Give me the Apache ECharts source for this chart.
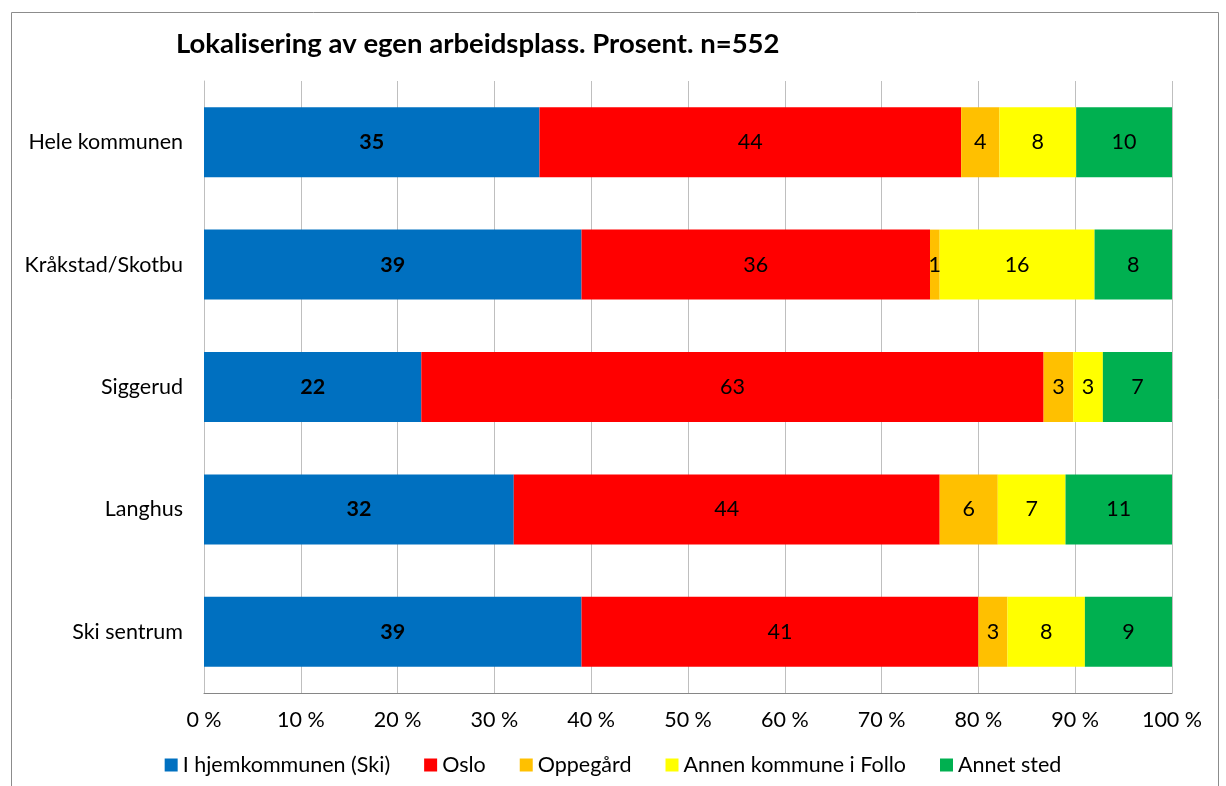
<!DOCTYPE html>
<html>
<head>
<meta charset="utf-8">
<script src="https://cdn.jsdelivr.net/npm/echarts@6/dist/echarts.min.js"></script>
<style>
html,body{margin:0;padding:0;background:#fff;}
#chart{width:1226px;height:786px;}
</style>
</head>
<body>
<div id="chart"></div>
<script>
const categories = ['Hele kommunen', 'Kråkstad/Skotbu', 'Siggerud', 'Langhus', 'Ski sentrum'];
const seriesNames = ['I hjemkommunen (Ski)', 'Oslo', 'Oppegård', 'Annen kommune i Follo', 'Annet sted'];
const hjemkommunen = [35, 39, 22, 32, 39];
const oslo = [44, 36, 63, 44, 41];
const oppegard = [4, 1, 3, 6, 3];
const annenFollo = [8, 16, 3, 7, 8];
const annetSted = [10, 8, 7, 11, 9];
const xTicks = [0, 10, 20, 30, 40, 50, 60, 70, 80, 90, 100];
const colors = ['#0070C0', '#FF0000', '#FFC000', '#FFFF00', '#00B050'];

const raw = [hjemkommunen, oslo, oppegard, annenFollo, annetSted];
const totals = categories.map((c, i) => raw.reduce((s, arr) => s + arr[i], 0));
const FONT = 'Lato, "Liberation Sans", sans-serif';
const FS = 21.5;

const chart = echarts.init(document.getElementById('chart'), null, {renderer: 'canvas'});
chart.setOption({
  animation: false,
  backgroundColor: '#fff',
  title: {
    text: 'Lokalisering av egen arbeidsplass. Prosent. n=552',
    left: 171, top: 25,
    textStyle: {fontFamily: FONT, fontSize: 27.5, fontWeight: 'bold', color: '#000'}
  },
  graphic: [{
    type: 'rect', shape: {x: 11.5, y: 12.5, width: 1207, height: 800},
    style: {fill: 'none', stroke: '#8c8c8c', lineWidth: 1}, silent: true, z: -1
  }],
  legend: {
    bottom: 5, left: 'center',
    itemWidth: 13, itemHeight: 13, itemGap: 34,
    icon: 'rect',
    textStyle: {fontFamily: FONT, fontSize: FS, color: '#000'},
    data: seriesNames
  },
  grid: {left: 204, right: 54, top: 81, bottom: 93, containLabel: false},
  xAxis: {
    type: 'value', min: xTicks[0], max: xTicks[xTicks.length - 1], interval: 10,
    axisLine: {show: true, lineStyle: {color: '#868686', width: 1}},
    axisTick: {show: false},
    splitLine: {show: true, lineStyle: {color: '#bfbfbf', width: 1}},
    axisLabel: {formatter: '{value} %', fontFamily: FONT, fontSize: FS, color: '#000', margin: 16}
  },
  yAxis: {
    type: 'category', inverse: true, data: categories,
    axisLine: {show: true, lineStyle: {color: '#bfbfbf'}},
    axisTick: {show: false},
    axisLabel: {fontFamily: FONT, fontSize: FS, color: '#000', margin: 21}
  },
  series: raw.map((arr, s) => ({
    name: seriesNames[s],
    type: 'bar',
    stack: 'total',
    barWidth: 70,
    itemStyle: {color: colors[s]},
    label: {
      show: true, position: 'inside',
      fontFamily: FONT, fontSize: FS, color: '#000',
      fontWeight: s === 0 ? 'bold' : 'normal',
      formatter: p => String(arr[p.dataIndex])
    },
    data: arr.map((v, i) => v / totals[i] * 100)
  }))
});
</script>
</body>
</html>
